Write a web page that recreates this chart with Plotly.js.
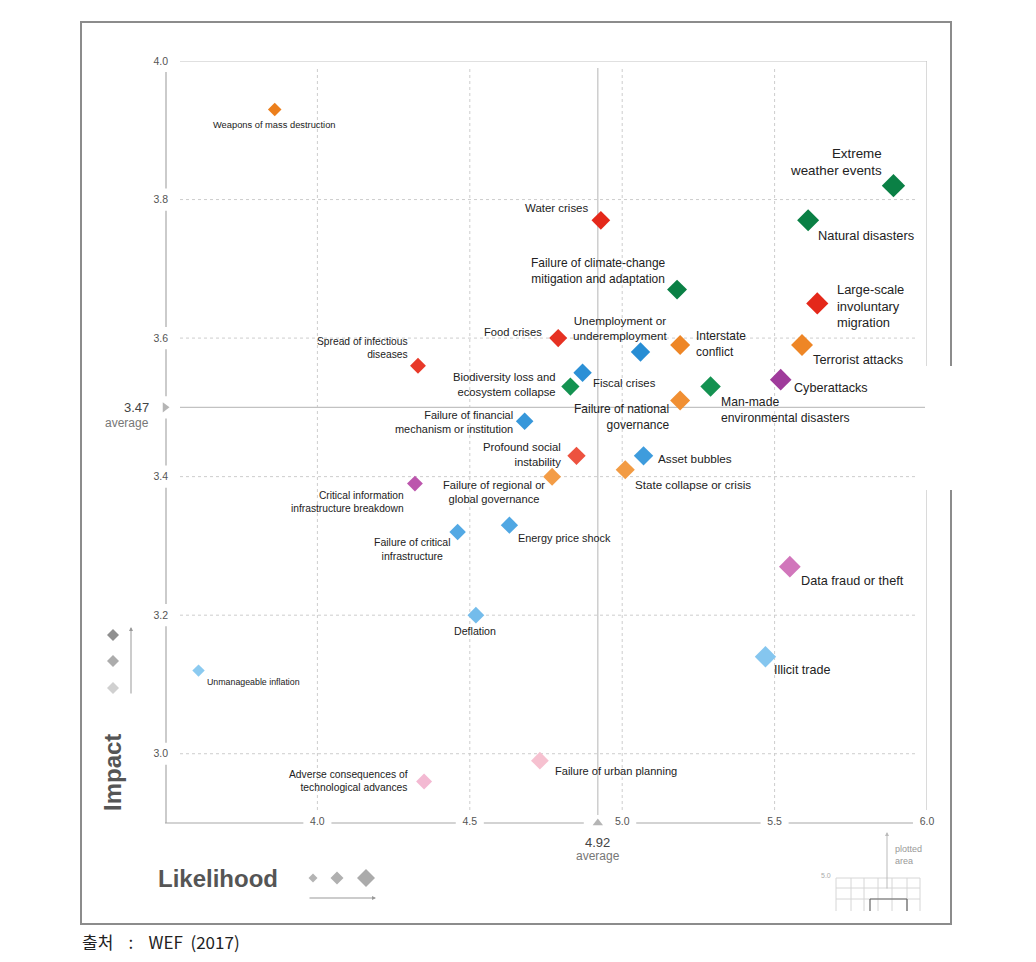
<!DOCTYPE html>
<html><head><meta charset="utf-8">
<script src="https://cdn.plot.ly/plotly-3.0.1.min.js"></script>
<style>body{margin:0;background:#fff}#chart{width:1036px;height:962px}</style>
</head><body><div id="chart"></div>
<script>
// ---------------- DATA ----------------
const risks = [
  "Weapons of mass destruction",
  "Extreme<br>weather events",
  "Natural disasters",
  "Water crises",
  "Failure of climate-change<br>mitigation and adaptation",
  "Large-scale<br>involuntary<br>migration",
  "Terrorist attacks",
  "Interstate<br>conflict",
  "Unemployment or<br>underemployment",
  "Food crises",
  "Spread of infectious<br>diseases",
  "Fiscal crises",
  "Biodiversity loss and<br>ecosystem collapse",
  "Man-made<br>environmental disasters",
  "Cyberattacks",
  "Failure of national<br>governance",
  "Failure of financial<br>mechanism or institution",
  "Profound social<br>instability",
  "Asset bubbles",
  "State collapse or crisis",
  "Failure of regional or<br>global governance",
  "Critical information<br>infrastructure breakdown",
  "Failure of critical<br>infrastructure",
  "Energy price shock",
  "Data fraud or theft",
  "Deflation",
  "Illicit trade",
  "Unmanageable inflation",
  "Failure of urban planning",
  "Adverse consequences of<br>technological advances"
];
const likelihood = [3.86,5.89,5.61,4.93,5.18,5.64,5.59,5.19,5.06,4.79,4.33,4.87,4.83,5.29,5.52,5.19,4.68,4.85,5.07,5.01,4.77,4.32,4.46,4.63,5.55,4.52,5.47,3.61,4.73,4.35];
const impact     = [3.93,3.82,3.77,3.77,3.67,3.65,3.59,3.59,3.58,3.60,3.56,3.55,3.53,3.53,3.54,3.51,3.48,3.43,3.43,3.41,3.40,3.39,3.32,3.33,3.27,3.20,3.14,3.12,2.99,2.96];
const category = ["geopolitical","environmental","environmental","societal","environmental","societal","geopolitical","geopolitical","economic","societal","societal","economic","environmental","environmental","technological","geopolitical","economic","societal","economic","geopolitical","geopolitical","technological","economic","economic","technological","economic","economic","economic","societal","technological"];
const avgLikelihood = 4.92;
const avgImpact = 3.47;          // average value as labelled
const avgImpactDrawn = 3.50;     // where the average line sits on the pictured impact axis
const xTicks = [4.0, 4.5, 5.0, 5.5, 6.0];
const yTicks = [3.0, 3.2, 3.4, 3.6, 3.8, 4.0];
const xRange = [3.5, 6.0];
const yRange = [2.9, 4.0];
const sourceText = "출처\u00a0\u00a0\u00a0\u00a0:\u00a0\u00a0\u00a0\u00a0WEF\u00a0\u00a0(2017)";

// ---------------- STYLE / LAYOUT ----------------
const FONT = '"Liberation Sans", Arial, Helvetica, sans-serif';
// label placement: [xanchor, align, dx(px right), dy(px down)]
const labelPlace = [
  ['center','center',0,16], ['right','right',-9,-24], ['left','left',8,15], ['right','right',-11,-12],
  ['right','center',-9,-19], ['left','left',18,3], ['left','left',9,14], ['left','left',14,-1],
  ['center','center',-20,-24], ['right','right',-14,-6], ['right','right',-8,-18], ['left','left',8,10],
  ['right','right',-12,-2], ['left','left',8,23], ['left','left',11,8], ['right','right',-9,17],
  ['right','right',-10,1], ['right','right',-13,-1], ['left','left',12,3], ['left','left',8,15],
  ['right','center',-5,15], ['right','right',-9,18], ['right','center',-5,17], ['left','left',7,13],
  ['left','left',9,14], ['center','center',-1,16], ['left','left',7,13], ['left','left',6,11],
  ['left','left',13,10], ['right','right',-14,0]
];
const palette = {
  economic:      ['#9fd5f4','#4aa4e2','#1d86d0'],
  environmental: ['#a0dab4','#22ad62','#0a8045'],
  geopolitical:  ['#f8c48c','#f4a24e','#ec7f1c'],
  societal:      ['#f6c1d0','#f0614c','#e4281a'],
  technological: ['#f3b9d2','#c45db2','#8a278e']
};
function hex2rgb(h){return [1,3,5].map(i=>parseInt(h.substr(i,2),16));}
function mix(a,b,t){const A=hex2rgb(a),B=hex2rgb(b);return 'rgb('+A.map((v,i)=>Math.round(v+(B[i]-v)*t)).join(',')+')';}
function toneFor(cat, imp){
  const p = palette[cat], s=[3.05,3.35,3.65];
  if(imp<=s[0]) return mix(p[0],p[0],0);
  if(imp<=s[1]) return mix(p[0],p[1],(imp-s[0])/(s[1]-s[0]));
  if(imp<=s[2]) return mix(p[1],p[2],(imp-s[1])/(s[2]-s[1]));
  return mix(p[2],p[2],0);
}
const markerSize = l => 9.5 + (l-3.6)*3.7;
const labelSize = l => 8.8 + (l-3.6)*2.0;

// plot frame in pixels
const L=165, R=927, T=61, B=823;
const PX = px => (px-L)/(R-L);
const PY = py => (B-py)/(B-T);

const shapes = [];
const dotted = {color:'#cdcdcd', width:1, dash:'dot'};
const solid = {color:'#c2c2c2', width:1.2};
// dotted grid
xTicks.filter(v=>v<xRange[1]).forEach(v=>shapes.push({type:'line',xref:'x',yref:'paper',x0:v,x1:v,y0:PY(810),y1:PY(68),line:dotted,layer:'below'}));
yTicks.filter(v=>v<yRange[1]).forEach(v=>shapes.push({type:'line',xref:'paper',yref:'y',x0:PX(180),x1:PX(918),y0:v,y1:v,line:dotted,layer:'below'}));
// top & right border lines
shapes.push({type:'line',xref:'paper',yref:'y',x0:PX(180),x1:1,y0:yRange[1],y1:yRange[1],line:solid,layer:'below'});
shapes.push({type:'line',xref:'x',yref:'paper',x0:xRange[1],x1:xRange[1],y0:PY(810),y1:1,line:solid,layer:'below'});
// average lines
shapes.push({type:'line',xref:'paper',yref:'y',x0:PX(180),x1:1,y0:avgImpactDrawn,y1:avgImpactDrawn,line:solid,layer:'below'});
shapes.push({type:'line',xref:'x',yref:'paper',x0:avgLikelihood,x1:avgLikelihood,y0:PY(815),y1:PY(68),line:solid,layer:'below'});
// broken axis lines
function segments(centers, half, lo, hi){
  const c=[...centers].sort((a,b)=>a-b), out=[]; let start=lo;
  c.forEach(v=>{ if(v-half>start) out.push([start,v-half]); start=Math.max(start,v+half); });
  if(hi>start) out.push([start,hi]);
  return out;
}
const axisLine = {color:'#a8a8a8', width:1.2};
segments([...yTicks, avgImpactDrawn], 0.016, yRange[0], yRange[1]).forEach(s=>shapes.push({type:'line',xref:'paper',yref:'y',x0:PX(166),x1:PX(166),y0:s[0],y1:s[1],line:axisLine,layer:'below'}));
segments([...xTicks, avgLikelihood], 0.046, xRange[0], xRange[1]).forEach(s=>shapes.push({type:'line',xref:'x',yref:'paper',x0:s[0],x1:s[1],y0:0,y1:0,line:axisLine,layer:'below'}));

// legend diamonds
function diamond(cx,cy,r,color){
  const p=(x,y)=>PX(x)+','+PY(y);
  shapes.push({type:'path',xref:'paper',yref:'paper',path:'M'+p(cx+r,cy)+'L'+p(cx,cy-r)+'L'+p(cx-r,cy)+'L'+p(cx,cy+r)+'Z',fillcolor:color,line:{width:0}});
}
diamond(113,635,6,'#8f8f8f'); diamond(113,661,6,'#acacac'); diamond(113,688,6,'#d0d0d0');
diamond(313,878,4.5,'#b4b4b4'); diamond(337,878,6.5,'#b0b0b0'); diamond(366,878,9,'#ababab');

// inset
const inset = {color:'#d6d6d6', width:1};
[[836,878,836,911],[836,878,920,878],[920,878,920,911],[851,878,851,911],[864,878,864,911],[878,878,878,911],[892,878,892,911],[907,878,907,911],[836,888,920,888],[836,899,920,899]].forEach(s=>
  shapes.push({type:'line',xref:'paper',yref:'paper',x0:PX(s[0]),y0:PY(s[1]),x1:PX(s[2]),y1:PY(s[3]),line:inset}));
[[870,911,870,899],[870,899,907,899],[907,899,907,911]].forEach(s=>
  shapes.push({type:'line',xref:'paper',yref:'paper',x0:PX(s[0]),y0:PY(s[1]),x1:PX(s[2]),y1:PY(s[3]),line:{color:'#666',width:1.2}}));

// outer frame & scan patch
shapes.push({type:'rect',xref:'paper',yref:'paper',x0:PX(81),x1:PX(951),y0:PY(924),y1:PY(22),line:{color:'#8c8c8c',width:2},layer:'above'});
shapes.push({type:'rect',xref:'paper',yref:'paper',x0:PX(925),x1:PX(955),y0:PY(490),y1:PY(366),fillcolor:'#fff',line:{width:0},layer:'above'});

// annotations
const annotations = risks.map((name,i)=>{
  const p = labelPlace[i];
  return {x:likelihood[i], y:impact[i], xref:'x', yref:'y', text:name, showarrow:false,
    xanchor:p[0], yanchor:'middle', align:p[1], xshift:p[2], yshift:-p[3],
    font:{size:labelSize(likelihood[i]), color:'#222', family:FONT}};
});
const A = (px,py,text,opt) => Object.assign({xref:'paper',yref:'paper',x:PX(px),y:PY(py),text:text,showarrow:false,font:{family:FONT}},opt);
annotations.push({xref:'paper',yref:'y',x:PX(151),y:avgImpactDrawn,text:avgImpact.toFixed(2),showarrow:false,xanchor:'right',yanchor:'middle',font:{family:FONT,size:13,color:'#444'}});
annotations.push({xref:'paper',yref:'y',x:PX(151),y:avgImpactDrawn,yshift:-16,text:'average',showarrow:false,xanchor:'right',yanchor:'middle',font:{family:FONT,size:12,color:'#777'}});
annotations.push({xref:'x',yref:'paper',x:avgLikelihood,y:PY(842),text:avgLikelihood.toFixed(2),showarrow:false,xanchor:'center',yanchor:'middle',font:{family:FONT,size:13,color:'#444'}});
annotations.push({xref:'x',yref:'paper',x:avgLikelihood,y:PY(856),text:'average',showarrow:false,xanchor:'center',yanchor:'middle',font:{family:FONT,size:12,color:'#777'}});
annotations.push(A(112,773,'Impact',{xanchor:'center',yanchor:'middle',textangle:-90,font:{family:FONT,size:24,weight:700,color:'#555'}}));
annotations.push(A(218,878,'Likelihood',{xanchor:'center',yanchor:'middle',font:{family:FONT,size:24,weight:700,color:'#555'}}));
annotations.push(A(893,855,'plotted<br>area',{xanchor:'left',yanchor:'middle',align:'left',font:{family:FONT,size:9,color:'#999'}}));
annotations.push(A(826,875,'5.0',{xanchor:'center',yanchor:'middle',font:{family:FONT,size:7,color:'#aaa'}}));
annotations.push(A(80,941,sourceText,{xanchor:'left',yanchor:'middle',font:{family:'"Noto Sans CJK KR", sans-serif',size:17,color:'#222'}}));
// arrows
const arrow = {showarrow:true, arrowhead:2, arrowsize:0.8, arrowwidth:1, arrowcolor:'#999', text:''};
annotations.push(Object.assign(A(131,627,''),arrow,{ax:0,ay:68}));
annotations.push(Object.assign(A(376,898,''),arrow,{ax:-68,ay:0}));
annotations.push(Object.assign(A(887,832,''),arrow,{ax:0,ay:58,arrowcolor:'#bbb'}));

const traces = [
  {type:'scatter', mode:'markers', x:likelihood, y:impact, text:risks, hoverinfo:'text', cliponaxis:false,
   marker:{symbol:'diamond', opacity:1, size:likelihood.map(markerSize), color:likelihood.map((l,i)=>toneFor(category[i],impact[i])), line:{width:0}}},
  {type:'scatter', mode:'markers', x:[xRange[0], avgLikelihood], y:[avgImpactDrawn, yRange[0]], hoverinfo:'skip', cliponaxis:false,
   marker:{symbol:['triangle-right','triangle-up'], opacity:1, size:9, color:'#b5b5b5', line:{width:0}}}
];

const layout = {
  width:1036, height:962, margin:{l:L, r:1036-R, t:T, b:962-B},
  paper_bgcolor:'#fff', plot_bgcolor:'rgba(0,0,0,0)', showlegend:false,
  xaxis:{range:xRange, tickvals:xTicks, ticktext:xTicks.map(v=>v.toFixed(1)), showgrid:false, zeroline:false, showline:false, ticks:'',
    tickfont:{size:10.5, color:'#555', family:FONT}, ticklabelstandoff:-10, fixedrange:true},
  yaxis:{range:yRange, tickvals:yTicks, ticktext:yTicks.map(v=>v.toFixed(1)), showgrid:false, zeroline:false, showline:false, ticks:'',
    tickfont:{size:10.5, color:'#555', family:FONT}, ticklabelstandoff:-4, fixedrange:true},
  shapes:shapes, annotations:annotations, font:{family:FONT}
};
Plotly.newPlot('chart', traces, layout, {displayModeBar:false, staticPlot:true});
</script>
</body></html>
